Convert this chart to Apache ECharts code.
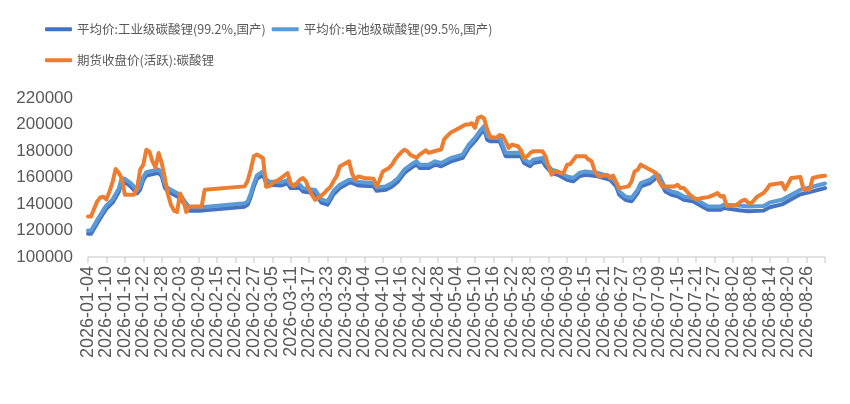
<!DOCTYPE html>
<html>
<head>
<meta charset="utf-8">
<script src="https://cdn.jsdelivr.net/npm/echarts@6/dist/echarts.min.js"></script>
<style>
html,body{margin:0;padding:0;background:#fff;}
#chart{width:850px;height:404px;}
</style>
</head>
<body>
<div id="chart"></div>
<script>
// ---- Data ----
const seriesNames = [
  '平均价:工业级碳酸锂(99.2%,国产)',
  '平均价:电池级碳酸锂(99.5%,国产)',
  '期货收盘价(活跃):碳酸锂'
];

// Spot price observation dates (MM-DD, year 2026)
const spotDates = [
  '01-04','01-05','01-07','01-09','01-10','01-12','01-14','01-15','01-16','01-18','01-20','01-21','01-22','01-23','01-27','01-28','01-29','01-30',
  '02-03','02-05','02-06','02-10','02-24','02-25','02-26','02-27','02-28',
  '03-02','03-03','03-04','03-08','03-10','03-11','03-14','03-15','03-19','03-21','03-23','03-25','03-27','03-30','03-31',
  '04-02','04-07','04-08','04-11','04-13','04-15','04-17','04-20','04-21','04-22','04-25','04-27','04-29',
  '05-02','05-06','05-08','05-10','05-12','05-13','05-14','05-15','05-18','05-19','05-20','05-25','05-26','05-28','05-29',
  '06-01','06-02','06-04','06-06','06-09','06-11','06-13','06-15','06-19','06-23','06-25','06-26','06-28','06-30',
  '07-02','07-03','07-06','07-08','07-09','07-11','07-13','07-15','07-17','07-20','07-23','07-25','07-29','07-30',
  '08-04','08-07','08-12','08-14','08-18','08-21','08-24','08-27','09-01'
];

const industrialValues = [
  117500,117500,125500,133000,136500,141000,149000,157000,156500,153000,148000,151000,158000,161500,163500,161000,152500,149500,
  144500,138000,135000,135000,138000,139500,145500,153000,159000,
  162000,156000,154500,154000,155500,152000,152000,149500,148000,141000,139500,147500,152000,156000,156000,
  154000,153300,150000,150800,153300,157100,163400,168500,169700,167200,167200,169700,168500,
  172000,174800,182300,187400,193700,196200,188600,187400,187400,182300,176100,176100,171000,168500,171000,
  172300,168500,163400,162100,158300,157100,160900,162100,160900,158300,153300,147000,143200,142000,
  148300,153300,155800,159600,159000,149500,147000,145800,143200,142000,138200,135600,135600,136900,
  135300,134600,135000,137600,139700,143500,147300,149000,152000
];

const batteryValues = [
  120000,120000,128000,135500,139000,143500,151500,159500,159000,155500,150500,153500,160500,164000,166000,163500,155000,152000,
  147000,140500,137500,137500,140500,142000,148000,155500,161500,
  164500,158500,157000,156500,158000,154500,154500,152000,150500,143500,142000,150000,154500,158300,158300,
  156600,155800,152500,153300,155800,159600,165900,171000,172200,169700,169700,172200,171000,
  174500,177300,184800,189900,196200,198700,191100,189900,189900,184800,178600,178600,173500,171000,173500,
  174800,171000,165900,164600,160800,159600,163400,164600,163400,160800,155800,149500,145700,144500,
  150800,155800,158300,162100,161500,152000,149500,148300,145700,144500,140700,138100,138100,139400,
  138800,138100,138500,141100,143200,147000,150800,152500,155500
];

// Futures observation dates (MM-DD, year 2026)
const futuresDates = [
  '01-04','01-05','01-06','01-07','01-08','01-09','01-10','01-11','01-12','01-13','01-14','01-15','01-16','01-19','01-20','01-21','01-22','01-23','01-24','01-25','01-26','01-27','01-28','01-29','01-30','01-31',
  '02-01','02-02','02-03','02-04','02-05','02-06','02-10','02-11','02-24','02-25','02-26','02-27','02-28',
  '03-01','03-02','03-03','03-04','03-05','03-06','03-07','03-10','03-11','03-12','03-14','03-15','03-16','03-17','03-18','03-19','03-21','03-22','03-23','03-24','03-25','03-26','03-27','03-29','03-30','03-31',
  '04-01','04-02','04-04','04-07','04-08','04-09','04-10','04-12','04-13','04-14','04-15','04-16','04-17','04-18','04-19','04-20','04-21','04-22','04-24','04-25','04-27','04-29','04-30',
  '05-02','05-04','05-07','05-08','05-09','05-10','05-11','05-12','05-13','05-14','05-15','05-17','05-18','05-19','05-20','05-21','05-22','05-24','05-25','05-26','05-27','05-28','05-29',
  '06-01','06-02','06-03','06-04','06-05','06-07','06-08','06-09','06-10','06-12','06-15','06-16','06-17','06-18','06-19','06-20','06-22','06-23','06-24','06-25','06-26','06-29','06-30',
  '07-01','07-02','07-03','07-05','07-08','07-09','07-10','07-14','07-15','07-16','07-17','07-19','07-21','07-23','07-25','07-27','07-28','07-29','07-30','07-31',
  '08-03','08-05','08-06','08-07','08-08','08-10','08-12','08-13','08-14','08-18','08-19','08-21','08-24','08-25','08-27','08-28','08-30','09-01'
];

const futuresValues = [
  130500,130500,136500,142000,145000,145500,143500,149500,156500,166400,163500,159500,147000,147000,152000,166000,169500,181000,179500,172200,167500,178500,171000,160000,147500,139500,
  135000,134000,148000,143000,134000,138100,138100,150800,153300,157500,166000,176000,177300,
  176000,174500,153000,153300,155500,157100,158000,163400,155800,153300,158300,159600,157100,151000,146500,143200,146500,148300,151000,153000,157500,161000,168400,171000,172200,163000,
  158300,160800,159600,159100,153300,158300,164600,167200,169700,173500,176500,179000,181000,179800,177000,176000,174800,177300,180500,178600,180000,181100,189000,
  193700,196200,200000,200000,201000,197500,205100,206000,204500,196200,190500,190000,192000,191500,187400,182300,184800,183600,180500,175000,176000,178500,179800,
  179800,176000,168000,162100,164600,163400,164000,169700,170000,176000,176000,173500,172200,165000,161500,160800,162100,159600,161500,156500,152000,153300,157000,
  164600,165900,169700,167200,163400,157000,153300,153300,154500,152000,152000,147000,143500,144500,145200,147000,148300,145700,146000,138500,
  139000,142500,143200,141000,140500,145700,148300,151000,154500,155800,151000,159600,160300,151000,150800,159600,160800,161300
];

const yMin = 100000, yMax = 220000, yStep = 20000;
const firstDay = '2026-01-04', lastDay = '2026-09-01';

// ---- Category axis: every calendar day ----
const categories = [];
(function () {
  let t = Date.parse(firstDay + 'T00:00:00Z');
  const end = Date.parse(lastDay + 'T00:00:00Z');
  while (t <= end) {
    const d = new Date(t);
    const mm = String(d.getUTCMonth() + 1).padStart(2, '0');
    const dd = String(d.getUTCDate()).padStart(2, '0');
    categories.push(d.getUTCFullYear() + '-' + mm + '-' + dd);
    t += 86400000;
  }
})();
const lastIndex = categories.length - 1;

function pairs(dates, values) {
  return dates.map((d, i) => ['2026-' + d, values[i]]);
}

const chart = echarts.init(document.getElementById('chart'));
const legendText = { fontSize: 12.5, color: '#595959', fontFamily: 'Noto Sans CJK SC' };
const lineSeries = (name, color, dates, values) => ({
  name: name,
  type: 'line',
  data: pairs(dates, values),
  symbol: 'none',
  smooth: false,
  itemStyle: { color: color },
  lineStyle: { color: color, width: 4, cap: 'round', join: 'round' }
});

chart.setOption({
  animation: false,
  backgroundColor: '#ffffff',
  grid: { left: 88, right: 25, top: 98, bottom: 147, containLabel: false },
  legend: [
    { data: [seriesNames[0], seriesNames[1]], left: 45, top: 23, padding: 0, itemWidth: 27, itemHeight: 4,
      icon: 'roundRect', itemGap: 6, textStyle: legendText },
    { data: [seriesNames[2]], left: 45, top: 54, padding: 0, itemWidth: 27, itemHeight: 4,
      icon: 'roundRect', itemGap: 6, textStyle: legendText }
  ],
  xAxis: {
    type: 'category',
    data: categories,
    boundaryGap: false,
    axisLine: { show: true, lineStyle: { color: '#d9d9d9', width: 1.5 } },
    axisTick: { show: true, interval: (i) => i % 6 === 0, length: 6, lineStyle: { color: '#d9d9d9', width: 1.5 } },
    axisLabel: {
      interval: (i) => i % 6 === 0 && i < lastIndex,
      showMinLabel: true,
      hideOverlap: false,
      rotate: 90, margin: 9, fontSize: 18, lineHeight: 16, color: '#595959', fontFamily: 'Liberation Sans'
    },
    splitLine: { show: false }
  },
  yAxis: {
    type: 'value',
    min: yMin, max: yMax, interval: yStep,
    axisLine: { show: false },
    axisTick: { show: false },
    splitLine: { show: false },
    axisLabel: { fontSize: 17, color: '#595959', margin: 15, fontFamily: 'Liberation Sans',
      formatter: (v) => String(v) }
  },
  series: [
    lineSeries(seriesNames[0], '#4472C4', spotDates, industrialValues),
    lineSeries(seriesNames[1], '#5B9BD5', spotDates, batteryValues),
    lineSeries(seriesNames[2], '#ED7D31', futuresDates, futuresValues)
  ]
});
</script>
</body>
</html>
